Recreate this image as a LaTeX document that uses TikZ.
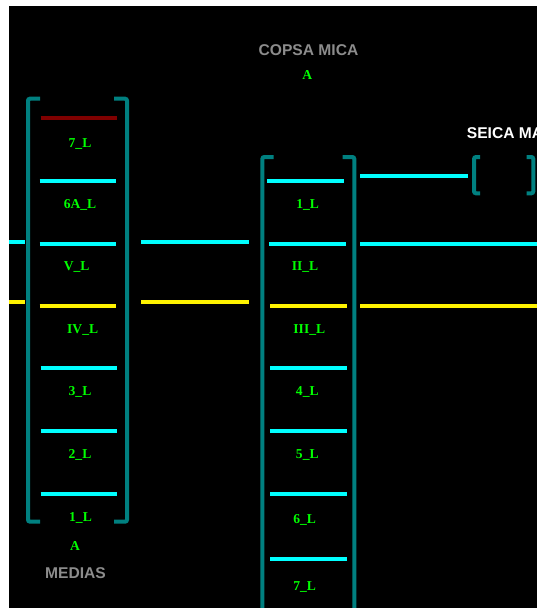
\documentclass[tikz,border=0pt]{standalone}
\usepackage{fontspec}
\setmainfont{Liberation Serif}
\newfontfamily\sitefont{Liberation Sans}
\definecolor{barcyan}{RGB}{0,255,255}
\definecolor{darkred}{RGB}{128,0,0}
\definecolor{bracketteal}{RGB}{0,128,128}
\definecolor{linegreen}{RGB}{0,255,0}
\definecolor{sitegray}{RGB}{140,140,140}
\tikzset{
  x=1pt,y=-1pt,
  bar/.style={line width=3.8pt,draw=barcyan},
  ybar/.style={line width=3.8pt,draw=yellow},
  rbar/.style={line width=3.8pt,draw=darkred},
  bracket/.style={line width=4pt,draw=bracketteal,rounded corners=2pt},
  trackname/.style={inner sep=0pt,anchor=base,text=linegreen,font=\fontsize{13.6}{13.6}\selectfont\bfseries},
  sitename/.style={inner sep=0pt,anchor=base,font=\sitefont\fontsize{15.6}{15.6}\selectfont\bfseries},
}
\begin{document}
\begin{tikzpicture}
\useasboundingbox (0,0) rectangle (537,608);
\fill[white] (0,0) rectangle (537,608);
\fill[black] (9,6) rectangle (537,608);
\begin{scope}
\clip (9,6) rectangle (537,608);
% brackets
\draw[bracket] (40,98.7) -- (28,98.7) -- (28,521.7) -- (40,521.7);
\draw[bracket] (114,98.7) -- (127,98.7) -- (127,521.7) -- (114,521.7);
\draw[bracket] (273.5,157) -- (262.3,157) -- (262.3,612);
\draw[bracket] (342.5,157) -- (354.3,157) -- (354.3,612);
\draw[bracket] (480,157) -- (474,157) -- (474,193.3) -- (480,193.3);
\draw[bracket] (526.7,157) -- (533.3,157) -- (533.3,193.3) -- (526.7,193.3);
% left column bars
\draw[rbar] (40.5,117.7) -- (117,117.7);
\draw[bar] (39.5,181) -- (115.7,181);
\draw[bar] (39.5,244) -- (115.7,244);
\draw[ybar] (39.5,305.7) -- (115.7,305.7);
\draw[bar] (40.5,367.7) -- (117,367.7);
\draw[bar] (40.5,430.7) -- (117,430.7);
\draw[bar] (40.5,493.7) -- (117,493.7);
% second column bars
\draw[bar] (267.3,181) -- (344.3,181);
\draw[bar] (269,244) -- (345.7,244);
\draw[ybar] (270,305.7) -- (347,305.7);
\draw[bar] (270,367.7) -- (347,367.7);
\draw[bar] (270,430.7) -- (347,430.7);
\draw[bar] (270,493.7) -- (347,493.7);
\draw[bar] (270,559.3) -- (347,559.3);
% links
\draw[bar] (9,241.7) -- (25,241.7);
\draw[ybar] (9,302.3) -- (25,302.3);
\draw[bar] (141.3,241.7) -- (249.3,241.7);
\draw[ybar] (141.3,302.3) -- (249.3,302.3);
\draw[bar] (360,176) -- (468,176);
\draw[bar] (360,244) -- (537,244);
\draw[ybar] (360,305.7) -- (537,305.7);
% track names
\node[trackname] (a7) at (80,147) {7\_L};
\node[trackname] (a6A) at (80,208.5) {6A\_L};
\node[trackname] (aV) at (76.7,270.5) {V\_L};
\node[trackname] (aIV) at (82.7,333.5) {IV\_L};
\node[trackname] (a3) at (80,395.5) {3\_L};
\node[trackname] (a2) at (80,458.5) {2\_L};
\node[trackname] (a1) at (80.5,521.5) {1\_L};
\node[trackname] (aA) at (75,550) {A};
\node[trackname] (b1) at (307.7,208.5) {1\_L};
\node[trackname] (bII) at (305,270.5) {II\_L};
\node[trackname] (bIII) at (309.3,333.5) {III\_L};
\node[trackname] (b4) at (307.3,395.5) {4\_L};
\node[trackname] (b5) at (307.3,458.5) {5\_L};
\node[trackname] (b6) at (304.7,523.8) {6\_L};
\node[trackname] (b7) at (304.7,590.5) {7\_L};
\node[trackname] (bA) at (307.3,79.5) {A};
% site names
\node[sitename,text=sitegray] (copsa) at (308.5,55) {COPSA MICA};
\node[sitename,text=sitegray] (medias) at (75.5,578) {MEDIAS};
\node[sitename,text=white,anchor=base west] (seica) at (466.7,138) {SEICA MA};
\end{scope}
\end{tikzpicture}
\end{document}
